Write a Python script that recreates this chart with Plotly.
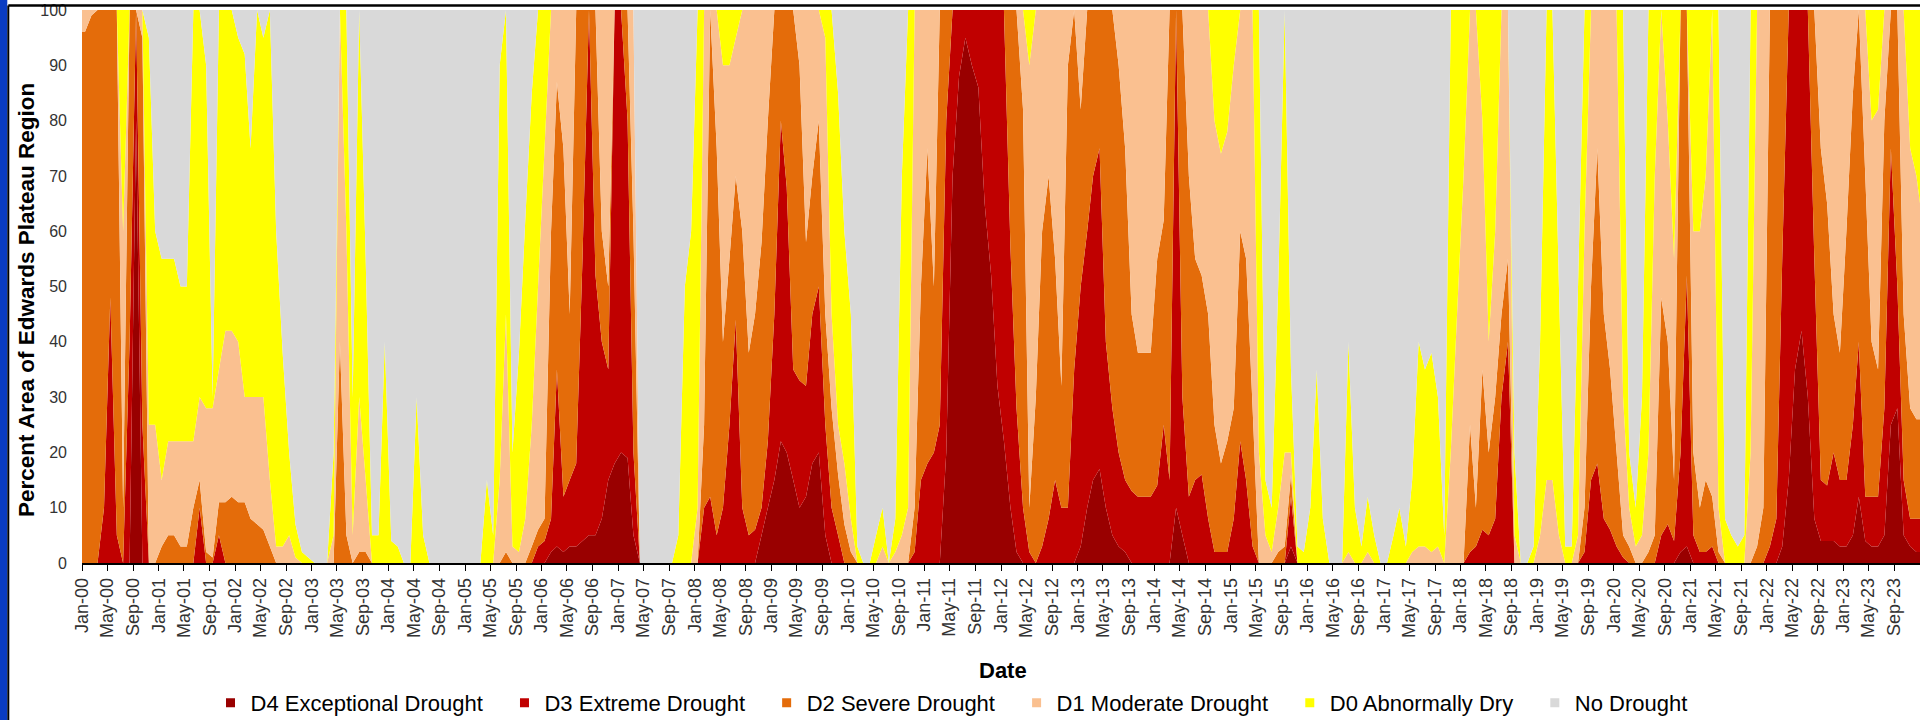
import plotly.graph_objects as go

# Cumulative percent area, mid-month samples Jan-2000 .. Dec-2023,
# plus readings at the left (2000-01-01) and right (2024-01-01) plot edges.
D4 = [0,
      0,0,0,0,0,0,0,0,80,0,0,0,            # 2000
      0,0,0,0,0,0,0,0,0,0,0,0,             # 2001
      0,0,0,0,0,0,0,0,0,0,0,0,             # 2002
      0,0,0,0,0,0,0,0,0,0,0,0,             # 2003
      0,0,0,0,0,0,0,0,0,0,0,0,             # 2004
      0,0,0,0,0,0,0,0,0,0,0,0,             # 2005
      0,2,3,2,3,3,4,5,5,8,15,18,           # 2006
      20,19,5,0,0,0,0,0,0,0,0,0,           # 2007
      0,0,0,0,0,0,0,0,0,0,5,10,            # 2008
      15,22,20,15,10,12,18,20,5,0,0,0,     # 2009
      0,0,0,0,0,0,0,0,0,0,0,0,             # 2010
      0,0,0,20,70,88,95,90,86,65,52,32,    # 2011
      22,10,2,0,0,0,0,0,0,0,0,0,           # 2012
      3,10,15,17,10,5,3,2,0,0,0,0,         # 2013
      0,0,0,10,5,0,0,0,0,0,0,0,            # 2014
      0,0,0,0,0,0,0,0,0,3,0,0,             # 2015
      0,0,0,0,0,0,0,0,0,0,0,0,             # 2016
      0,0,0,0,0,0,0,0,0,0,0,0,             # 2017
      0,0,0,0,0,0,0,0,0,0,0,0,             # 2018
      0,0,0,0,0,0,0,0,0,0,0,0,             # 2019
      0,0,0,0,0,0,0,0,0,0,2,3,             # 2020
      0,0,0,0,0,0,0,0,0,0,0,0,             # 2021
      0,0,3,15,35,42,30,8,4,4,4,3,         # 2022
      3,5,12,4,3,3,5,25,28,5,3,2,          # 2023
      2]

D3_D4 = [0,
      0,0,0,10,48,5,0,40,100,25,0,0,
      0,0,0,0,0,0,10,0,0,5,0,0,
      0,0,0,0,0,0,0,0,0,0,0,0,
      0,0,0,0,0,0,0,0,0,0,0,0,
      0,0,0,0,0,0,0,0,0,0,0,0,
      0,0,0,0,0,0,0,0,0,0,0,3,
      4,8,35,12,15,18,55,100,52,40,35,100,
      100,80,20,0,0,0,0,0,0,0,0,0,
      0,10,12,5,10,25,44,10,5,6,10,22,
      45,80,68,35,33,32,45,50,25,10,5,0,
      0,0,0,0,0,0,0,0,0,0,2,15,
      18,20,25,80,100,100,100,100,100,100,100,100,
      100,57,28,10,2,0,3,8,15,10,10,35,
      50,60,70,75,40,28,20,15,13,12,12,12,
      14,25,15,100,30,12,15,16,8,2,2,2,
      8,22,15,3,0,0,0,0,0,12,0,0,
      0,0,0,0,0,0,0,0,0,0,0,0,
      0,0,0,0,0,0,0,0,0,0,0,0,
      0,2,3,6,5,8,30,40,0,0,0,0,
      0,0,0,0,0,0,0,2,15,18,8,6,
      3,1,0,0,0,0,0,5,7,4,20,52,
      5,2,2,3,0,0,0,0,0,0,0,0,
      3,8,55,100,100,100,100,55,15,14,20,15,
      15,25,40,12,12,12,28,75,50,15,8,8,
      8]

D2_D4 = [96,
      96,99,100,100,100,100,10,100,100,95,0,0,
      3,5,5,3,3,10,15,2,1,11,11,12,
      11,11,8,7,6,3,0,0,0,0,0,0,
      0,0,0,0,40,5,0,2,2,0,0,0,
      0,0,0,0,0,0,0,0,0,0,0,0,
      0,0,0,0,0,0,2,0,0,0,3,6,
      8,60,87,75,45,100,100,100,100,60,50,100,
      100,100,60,0,0,0,0,0,0,0,0,0,
      0,25,100,75,40,55,70,60,38,45,58,80,
      100,100,100,100,90,58,70,80,45,28,16,7,
      2,0,0,0,0,0,0,0,0,0,10,50,
      75,50,100,100,100,100,100,100,100,100,100,100,
      100,100,100,82,10,30,60,70,55,32,90,100,
      82,100,100,100,100,100,90,75,45,38,38,38,
      55,62,100,100,100,70,55,52,45,25,18,22,
      28,60,55,28,0,0,0,2,3,16,0,0,
      0,0,0,0,0,0,0,0,0,0,0,0,
      0,0,0,0,0,0,0,0,0,0,0,0,
      0,25,10,35,20,30,45,55,0,0,0,0,
      0,0,0,0,0,0,0,10,50,75,45,35,
      20,5,3,0,0,2,5,48,40,15,100,100,
      20,10,15,12,2,0,0,0,0,0,3,10,
      100,100,100,100,100,100,100,100,75,65,45,38,
      60,85,100,70,40,35,80,100,100,45,28,26,
      26]

D1_D4 = [100,
      100,100,100,100,100,100,60,100,100,100,25,25,
      15,22,22,22,22,22,30,28,28,35,42,42,
      40,30,30,30,30,15,3,3,5,1,0,0,
      0,0,0,5,100,60,5,30,15,0,0,0,
      0,0,0,0,0,0,0,0,0,0,0,0,
      0,0,0,0,0,15,45,3,2,8,25,50,
      75,100,100,100,100,100,100,100,100,100,100,100,
      100,100,100,0,0,0,0,0,0,0,0,0,
      10,100,100,100,90,90,95,100,100,100,100,100,
      100,100,100,100,100,100,100,100,95,45,25,18,
      8,0,0,0,0,3,0,2,5,10,100,100,
      100,100,100,100,100,100,100,100,100,100,100,100,
      100,100,100,100,90,100,100,100,100,100,100,100,
      100,100,100,100,100,100,100,100,100,100,100,100,
      100,100,100,100,100,100,100,100,100,80,74,78,
      90,100,100,100,20,5,2,10,20,20,0,0,
      0,0,0,0,0,0,2,0,0,2,0,0,
      0,0,0,0,2,3,3,2,3,0,20,45,
      70,100,100,80,40,60,100,100,5,0,0,0,
      5,15,15,5,0,0,5,60,100,100,100,100,
      100,30,10,3,5,20,70,100,80,55,100,100,
      60,60,70,100,10,0,0,0,0,20,100,100,
      100,100,100,100,100,100,100,100,100,100,100,100,
      100,100,100,100,80,82,100,100,100,100,75,70,
      65]

D0_D4 = [100,
      100,100,100,100,100,100,100,100,100,100,95,60,
      55,55,55,50,50,100,100,90,30,100,100,100,
      95,92,75,100,95,100,60,38,20,7,2,1,
      0,0,0,20,100,100,30,100,55,5,5,40,
      4,3,0,0,30,5,0,0,0,0,0,0,
      0,0,0,15,5,90,100,20,38,62,85,100,
      100,100,100,100,100,100,100,100,100,100,100,100,
      100,100,100,0,0,0,0,0,0,5,50,60,
      100,100,100,100,100,100,100,100,100,100,100,100,
      100,100,100,100,100,100,100,100,100,100,85,60,
      45,3,0,0,5,10,0,8,70,100,100,100,
      100,100,100,100,100,100,100,100,100,100,100,100,
      100,100,100,100,100,100,100,100,100,100,100,100,
      100,100,100,100,100,100,100,100,100,100,100,100,
      100,100,100,100,100,100,100,100,100,100,100,100,
      100,100,100,100,100,15,10,50,100,35,3,2,
      10,35,8,0,0,0,40,10,3,12,5,0,
      0,5,10,3,15,40,35,38,30,5,100,100,
      100,100,100,100,100,100,100,100,20,0,0,3,
      40,100,100,50,3,3,50,100,100,100,100,100,
      100,100,20,10,30,100,100,100,100,100,100,100,
      100,100,100,100,100,8,5,3,5,100,100,100,
      100,100,100,100,100,100,100,100,100,100,100,100,
      100,100,100,100,100,100,100,100,100,100,100,100,
      100]

DATES = ["2000-01-01"] + [f"{y}-{m:02d}-15" for y in range(2000, 2024) for m in range(1, 13)] + ["2024-01-01"]

CATEGORIES = ["D4 Exceptional Drought", "D3 Extreme Drought", "D2 Severe Drought",
              "D1 Moderate Drought", "D0 Abnormally Dry", "No Drought"]
COLORS = ["#990000", "#C00000", "#E46C0A", "#FAC090", "#FFFF00", "#D9D9D9"]

# per-category percentages derived from the cumulative readings
cum = [D4, D3_D4, D2_D4, D1_D4, D0_D4, [100] * len(D4)]
series = [cum[0]] + [[b - a for a, b in zip(cum[i - 1], cum[i])] for i in range(1, 6)]

FONT = "Liberation Sans, Arial, sans-serif"
fig = go.Figure()
for name, vals, col in zip(CATEGORIES, series, COLORS):
    fig.add_trace(go.Scatter(x=DATES, y=vals, name=name, stackgroup="one", mode="none",
                             fillcolor=col, showlegend=False, hoverinfo="skip"))
for name, col in zip(CATEGORIES, COLORS):
    fig.add_trace(go.Scatter(x=[None], y=[None], name=name + "\u00a0\u00a0\u2009", mode="markers",
                             marker=dict(symbol="square", size=9, color=col)))

W, H = 1920, 720
L, R, T, B = 82, 0, 10, 157
pw, ph = W - L - R, H - T - B
def px(xp):  # pixel x -> paper
    return (xp - L) / pw
def py(yp):  # pixel y -> paper
    return (H - B - yp) / ph

fig.update_layout(
    width=W, height=H, margin=dict(l=L, r=R, t=T, b=B, autoexpand=False),
    paper_bgcolor="white", plot_bgcolor="white",
    font=dict(family=FONT, color="#000000"),
    xaxis=dict(type="date", range=["2000-01-01", "2024-01-01"], tickformat="%b-%y",
               dtick="M4", tick0="2000-01-01", tickangle=-90, ticks="outside", ticklen=6,
               tickcolor="#000000", showline=True, linecolor="#000000", linewidth=1.5,
               showgrid=False, zeroline=False, tickfont=dict(size=18, color="#333333")),
    yaxis=dict(range=[0, 100], dtick=10, showgrid=False, zeroline=False, showline=False,
               ticks="", tickfont=dict(size=16, color="#333333"), ticklabelstandoff=14),
    legend=dict(orientation="h", traceorder="normal", xref="container", yref="container",
                x=0.5, xanchor="center", y=(H - 703) / H, yanchor="middle",
                font=dict(size=22, color="#000000"), bgcolor="rgba(0,0,0,0)", itemclick=False),
    showlegend=True,
    annotations=[
        dict(text="<b>Percent Area of Edwards Plateau Region</b>", textangle=-90,
             xref="paper", yref="paper", x=px(26), y=py(300), xanchor="center", yanchor="middle",
             showarrow=False, font=dict(size=22.5, color="#000000")),
        dict(text="<b>Date</b>", xref="paper", yref="paper", x=px(1003), y=py(670),
             xanchor="center", yanchor="middle", showarrow=False,
             font=dict(size=22, color="#000000")),
    ],
    shapes=[
        dict(type="rect", xref="paper", yref="paper", x0=px(0), x1=px(7.3), y0=py(H), y1=py(0),
             fillcolor="#0A3CC2", line=dict(width=0), layer="above"),
        dict(type="line", xref="paper", yref="paper", x0=px(8.3), x1=px(8.3), y0=py(H), y1=py(5.5),
             line=dict(color="#000000", width=2), layer="above"),
        dict(type="line", xref="paper", yref="paper", x0=px(8.3), x1=px(W), y0=py(5.5), y1=py(5.5),
             line=dict(color="#000000", width=2.5), layer="above"),
    ],
)

fig.write_html("out.html")
